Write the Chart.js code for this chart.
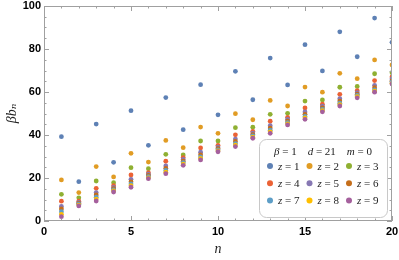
<!DOCTYPE html>
<html>
<head>
<meta charset="utf-8">
<script src="https://cdn.jsdelivr.net/npm/chart.js@4/dist/chart.umd.min.js"></script>
<style>
  html, body { margin: 0; padding: 0; background: #fff; }
  #wrap { width: 399px; height: 260px; position: relative; }
</style>
</head>
<body>
<div id="wrap"><canvas id="chart"></canvas></div>
<script>
// --- Data ---
const nValues = [1, 2, 3, 4, 5, 6, 7, 8, 9, 10, 11, 12, 13, 14, 15, 16, 17, 18, 19, 20];
const z1 = [39.2, 18.3, 45.1, 27.3, 51.3, 35.2, 57.4, 42.5, 63.4, 49.4, 69.6, 56.4, 75.8, 63.3, 82.0, 69.8, 88.0, 76.4, 94.4, 83.1];
const z2 = [19.1, 13.2, 25.3, 20.5, 31.5, 27.4, 37.5, 34.1, 43.7, 40.8, 49.9, 47.1, 56.1, 53.5, 62.3, 59.9, 68.7, 66.2, 74.9, 72.6];
const z3 = [12.4, 10.8, 18.6, 17.8, 24.8, 24.3, 31.0, 30.7, 37.2, 37.2, 43.4, 43.6, 49.6, 50.1, 55.8, 56.3, 62.2, 62.6, 68.5, 69.0];
const z4 = [9.2, 9.2, 15.2, 16.4, 21.4, 22.5, 27.8, 29.5, 34.0, 35.2, 40.1, 41.7, 46.4, 48.2, 52.6, 54.3, 58.9, 60.6, 65.3, 67.0];
const z5 = [6.8, 8.6, 13.2, 15.6, 19.4, 21.8, 25.6, 28.6, 32.0, 34.4, 38.1, 40.9, 44.3, 47.3, 50.7, 53.4, 56.9, 59.7, 63.1, 66.1];
const z6 = [5.6, 8.2, 12.1, 15.0, 18.2, 21.2, 24.5, 27.8, 30.8, 33.7, 37.0, 40.2, 43.2, 46.5, 49.6, 52.6, 55.8, 59.0, 62.0, 65.2];
const z7 = [4.3, 7.8, 11.1, 14.5, 17.2, 20.6, 23.5, 27.1, 29.8, 33.1, 36.0, 39.6, 42.2, 45.8, 48.6, 51.9, 54.8, 58.4, 61.0, 64.6];
const z8 = [3.1, 7.4, 10.2, 14.0, 16.4, 20.1, 22.7, 26.5, 29.1, 32.6, 35.3, 39.0, 41.5, 45.2, 47.9, 51.3, 54.1, 57.8, 60.4, 64.1];
const z9 = [2.0, 7.0, 9.3, 13.5, 15.7, 19.7, 22.0, 25.9, 28.4, 32.2, 34.6, 38.5, 40.8, 44.7, 47.3, 50.8, 53.5, 57.3, 59.9, 63.7];
const series = [z1, z2, z3, z4, z5, z6, z7, z8, z9];
const zLabels = ['z = 1', 'z = 2', 'z = 3', 'z = 4', 'z = 5', 'z = 6', 'z = 7', 'z = 8', 'z = 9'];
const legendHeader = 'β = 1    d = 21    m = 0';
const xTitle = 'n';
const yTitle = 'βbₙ';

// Mathematica default palette
const colors = ['#5E81B5', '#E19C24', '#8FB032', '#EB6235', '#8778B3', '#C56E1A', '#5D9EC7', '#FFBF00', '#A5609D'];

const tickFont = { family: "'Liberation Sans Narrow', 'Liberation Sans', sans-serif", size: 11, weight: 'bold' };
const mathFamily = "'Liberation Serif', 'DejaVu Serif', serif";

// draw a string with letters in italic and the rest upright
function mathRuns(text) {
    const runs = [];
    for (const ch of text) {
        const it = /[A-Za-zα-ω]/.test(ch);
        if (runs.length && runs[runs.length - 1].it === it) runs[runs.length - 1].s += ch;
        else runs.push({ s: ch, it: it });
    }
    return runs;
}
function mathWidth(ctx, text, size) {
    let w = 0;
    for (const r of mathRuns(text)) {
        ctx.font = (r.it ? 'italic ' : '') + size + 'px ' + mathFamily;
        w += ctx.measureText(r.s).width;
    }
    return w;
}
function drawMath(ctx, text, x, y, size) {
    for (const r of mathRuns(text)) {
        ctx.font = (r.it ? 'italic ' : '') + size + 'px ' + mathFamily;
        ctx.fillText(r.s, x, y);
        x += ctx.measureText(r.s).width;
    }
}

// frame with inward ticks on all four sides, plus the legend box
const framePlugin = {
    id: 'frame',
    afterDraw(chart) {
        const { ctx, chartArea: { left, right, top, bottom }, scales: { x, y } } = chart;
        ctx.save();
        ctx.strokeStyle = '#a0a0a0';
        ctx.lineWidth = 1;
        ctx.strokeRect(left + 0.5, top + 0.5, right - left - 1, bottom - top - 1);
        ctx.beginPath();
        for (let v = x.min; v <= x.max; v += 1) {
            const px = Math.round(x.getPixelForValue(v)) + 0.5;
            const len = v % 5 === 0 ? 5 : 2.5;
            ctx.moveTo(px, bottom); ctx.lineTo(px, bottom - len);
            ctx.moveTo(px, top); ctx.lineTo(px, top + len);
        }
        for (let v = y.min; v <= y.max; v += 5) {
            const py = Math.round(y.getPixelForValue(v)) + 0.5;
            const len = v % 20 === 0 ? 5 : 2.5;
            ctx.moveTo(left, py); ctx.lineTo(left + len, py);
            ctx.moveTo(right, py); ctx.lineTo(right - len, py);
        }
        ctx.stroke();

        // legend
        const bw = 128, bh = 78;
        const bx = right - 5 - bw, by = bottom - 4 - bh;
        ctx.beginPath();
        ctx.roundRect(bx + 0.5, by + 0.5, bw, bh, 7);
        ctx.fillStyle = '#fff';
        ctx.fill();
        ctx.strokeStyle = '#c8c8c8';
        ctx.stroke();

        ctx.fillStyle = '#222';
        ctx.textBaseline = 'middle';
        ctx.textAlign = 'left';
        const hw = mathWidth(ctx, legendHeader, 11);
        drawMath(ctx, legendHeader, bx + bw / 2 - hw / 2, by + 13, 11);

        chart.data.datasets.forEach((ds, i) => {
            const col = i % 3, row = Math.floor(i / 3);
            const mx = bx + 11 + col * 39.5, my = by + 27 + row * 17.3;
            ctx.beginPath();
            ctx.arc(mx, my, 3, 0, Math.PI * 2);
            ctx.fillStyle = ds.backgroundColor;
            ctx.fill();
            ctx.fillStyle = '#222';
            drawMath(ctx, ds.label, mx + 8, my + 1, 11);
        });
        ctx.restore();
    }
};

const ctx = document.getElementById('chart').getContext('2d');
new Chart(ctx, {
    type: 'scatter',
    data: {
        datasets: series.map((vals, i) => ({
            label: zLabels[i],
            data: nValues.map((n, j) => ({ x: n, y: vals[j] })),
            backgroundColor: colors[i],
            borderColor: colors[i],
            borderWidth: 0,
            pointRadius: 2.4,
            pointHoverRadius: 2.4,
            order: series.length - i
        }))
    },
    options: {
        responsive: true,
        maintainAspectRatio: false,
        animation: false,
        layout: { padding: { top: 6, right: 7, left: 0, bottom: 0 } },
        scales: {
            x: {
                type: 'linear',
                min: 0,
                max: 20,
                afterFit: (scale) => { scale.height = 39; scale.paddingLeft = 0; scale.paddingRight = 0; },
                ticks: { stepSize: 5, color: '#000', font: tickFont, padding: 4, maxRotation: 0 },
                grid: { display: false, drawTicks: false },
                border: { display: false },
                title: {
                    display: true,
                    text: xTitle,
                    color: '#222',
                    font: { family: mathFamily, size: 14, style: 'italic' },
                    padding: { top: 0, bottom: 2 }
                }
            },
            y: {
                type: 'linear',
                min: 0,
                max: 100,
                afterFit: (scale) => { scale.width = 44; scale.paddingTop = 0; scale.paddingBottom = 0; },
                ticks: { stepSize: 20, color: '#000', font: tickFont, padding: 3 },
                grid: { display: false, drawTicks: false },
                border: { display: false },
                title: {
                    display: true,
                    text: yTitle,
                    color: '#222',
                    font: { family: mathFamily, size: 14, style: 'italic' },
                    padding: { top: 4, bottom: 0 }
                }
            }
        },
        plugins: {
            legend: { display: false },
            tooltip: { enabled: false }
        }
    },
    plugins: [framePlugin]
});
</script>
</body>
</html>
